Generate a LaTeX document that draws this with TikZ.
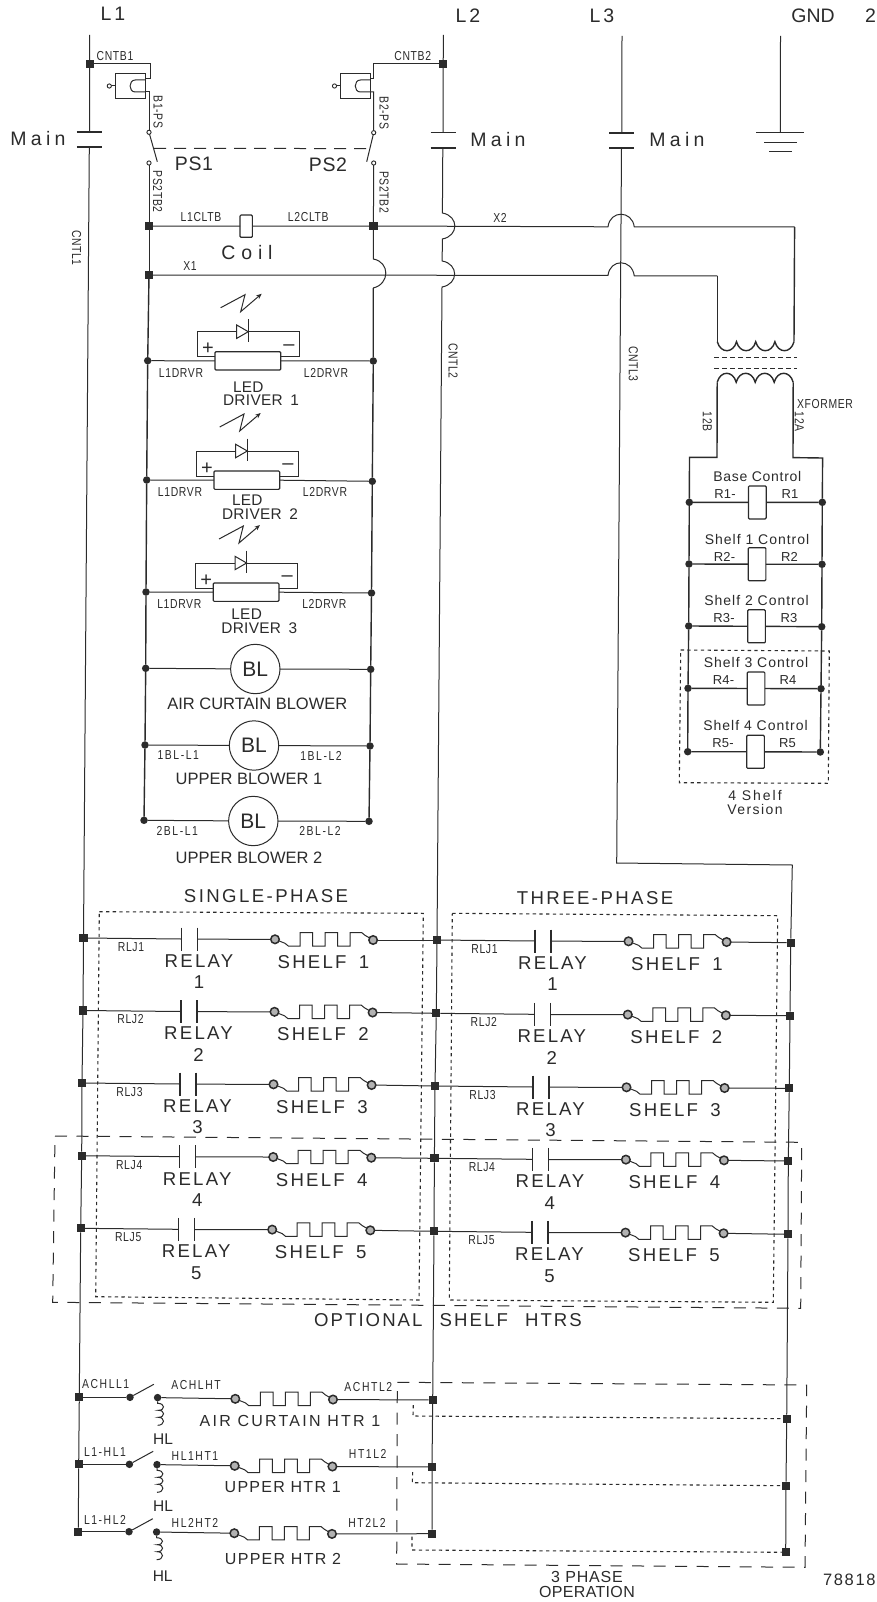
\documentclass[tikz,border=0pt]{standalone}
\usepackage{fontspec}
\setmainfont{Liberation Sans}
\newfontfamily\narrowf[FakeStretch=0.8]{Liberation Sans}
\usetikzlibrary{arrows.meta}
\definecolor{ink}{HTML}{2B2B2B}
\newcounter{lb}
\newcommand\wf[2]{\fontsize{#1}{#1}\selectfont\addfontfeatures{LetterSpace=#2}}
\newcommand\nf[1]{\narrowf\fontsize{13}{13}\selectfont\addfontfeatures{LetterSpace=#1}}
\newcommand\tlab[5]{\stepcounter{lb}\node[txt,font=\wf{#1}{#2}] (lb\arabic{lb}) at (#3,#4) {#5};}
\newcommand\tsm[3]{\stepcounter{lb}\node[txt,font=\nf{5}] (lb\arabic{lb}) at (#1,#2) {#3};}
\newcommand\tsml[3]{\stepcounter{lb}\node[txt,font=\nf{12}] (lb\arabic{lb}) at (#1,#2) {#3};}
\newcommand\tsmv[3]{\stepcounter{lb}\node[txt,rotate=-90,font=\nf{5}] (lb\arabic{lb}) at (#1,#2) {#3};}
% heater zigzag between two ring nodes
\newcommand\myheat[2]{\begin{scope}[shift={(#1)}]
 \draw[wire] (#1) -- (10,4) -- (13.3,6.7) -- (25,6.7) -- (25,-6.7) -- (37.7,-6.7) -- (37.7,6.7) -- (50,6.7) -- (50,-6.7) -- (62.7,-6.7) -- (62.7,6.7) -- (75,6.7) -- (75,-6.7) -- (86.7,-6.7) -- (90,-4) -- (#2);
\end{scope}}
% shelf row: from node #1 to node #2, number #3
\newcommand\shelfrow[3]{\begin{scope}[shift={(#1)}]
 \coordinate (#1pl) at (98,1); \coordinate (#1pr) at (114,1.2);
 \node[ring] (#1ca) at (191.5,1.3) {};
 \node[ring] (#1cb) at (289.6,2) {};
 \draw[wire] (#1) -- (#1pl);
 \draw[plate] (98,-10.5) -- (98,12.5);
 \draw[plate] (114,-10.5) -- (114,12.5);
 \draw[wire] (#1pr) -- (#1ca);
 \draw[wire] (#1cb) -- (#2);
 \tsm{47.5}{9}{RLJ#3}
 \tlab{18.6}{12}{115.5}{23}{RELAY}
 \tlab{18.6}{12}{115.5}{44.5}{#3}
 \tlab{18.6}{12}{240}{24}{SHELF\hspace{5pt} #3}
\end{scope}\myheat{#1ca}{#1cb}}
% LED driver: #1 left node, #2 right node, #3 number, #4 LED dy, #5 DRIVER dy
\newcommand\driver[5]{\begin{scope}[shift={(#1)}]
 \node[rectbox,minimum width=65.7pt,minimum height=18.3pt] (#1r) at (100.1,0.2) {};
 \draw[wire] (#1) -- (#1r.west);
 \draw[wire] (#1r.east) -- (#2);
 \coordinate (#1la) at (67.3,-4); \coordinate (#1lb) at (133,-4);
 \draw[wire] (#1la) -- (49.6,-4) -- (49.6,-29) -- (89,-29);
 \draw[wire] (89,-35.7) -- (100.6,-29) -- (89,-22.3) -- cycle;
 \draw[wire] (100.6,-41.4) -- (100.6,-19);
 \draw[wire] (100.6,-29) -- (151.3,-29) -- (151.3,-4) -- (#1lb);
 \draw[wire,-{Stealth[length=5.5pt,width=4.5pt]}] (73,-53) -- (97.3,-66) -- (93,-49) -- (114,-67);
 \tlab{20}{0}{60.3}{-11.7}{+}
 \tlab{20}{0}{141.3}{-13}{–}
 \tsm{33.3}{12}{L1DRVR}
 \tsm{178.3}{12}{L2DRVR}
 \tlab{15.4}{2}{100.6}{#4}{LED}
 \tlab{15.4}{2}{113.3}{#5}{DRIVER\hspace{3pt} #3}
\end{scope}}
% blower
\newcommand\blower[3]{\node[bl] (#1) at (#2,#3) {BL};}
% bottom heater row
\newcommand\hrow[2]{\begin{scope}[shift={(#1)}]
 \node[rnd] (#1s) at (50.7,0) {};
 \node[rnd] (#1t) at (78.3,0.3) {};
 \coordinate (#1e) at (74.5,-13);
 \node[ring] (#1ca) at (156,1.5) {};
 \node[ring] (#1cb) at (253.7,2.2) {};
 \draw[wire] (#1) -- (#1s);
 \draw[wire] (#1s) -- (#1e);
 \draw[wire] (#1t) -- (#1ca);
 \draw[wire] (#1cb) -- (#2);
 \draw[wire] (#1t) -- (78.3,6) .. controls (86,6) and (86,13) .. (79,13) .. controls (86,13) and (86,20) .. (79,20) .. controls (86,20) and (86,28) .. (78.3,28);
\end{scope}\myheat{#1ca}{#1cb}}
% pressure switch body, x = left edge
\newcommand\psbody[2]{\draw[wire] (#1,73.3) rectangle (#1+30.4,98.7);
 \draw[wire] (#1+30,80) -- (#1+20,80) .. controls (#1+13,80) and (#1+13,92) .. (#1+20,92) -- (#1+30,92);
 \draw[wire] (#1,86) -- (#1-4,86);
 \node[hollow] (#2) at (#1-6,86) {};}
% motor contact plates
\newcommand\plates[3]{\draw[plate] (#1-12.5,#2) -- (#1+12.5,#2);
 \draw[plate] (#1-12.5,#3) -- (#1+12.5,#3);}
\begin{document}
\begin{tikzpicture}[x=1pt,y=-1pt,
  wire/.style={draw=ink,line width=1pt},
  thk/.style={draw=ink,line width=1.4pt},
  plate/.style={draw=ink,line width=1.4pt},
  longdash/.style={draw=ink,line width=1pt,dash pattern=on 12pt off 9.5pt},
  shortdot/.style={draw=ink,line width=1.1pt,dash pattern=on 3.3pt off 3.4pt},
  txt/.style={inner sep=0pt,outer sep=0pt,text=ink},
  sq/.style={rectangle,fill=ink,inner sep=0pt,outer sep=0pt,minimum size=8.3pt},
  rnd/.style={circle,fill=ink,inner sep=0pt,outer sep=0pt,minimum size=7.5pt},
  hollow/.style={circle,draw=ink,line width=0.9pt,inner sep=0pt,outer sep=0pt,minimum size=4.2pt,fill=white},
  ring/.style={circle,draw=ink,line width=1.5pt,fill=gray!60,inner sep=0pt,outer sep=0pt,minimum size=8.5pt},
  rectbox/.style={rectangle,draw=ink,line width=1.2pt,fill=white,rounded corners=1pt,inner sep=0pt,outer sep=0pt},
  bl/.style={circle,draw=ink,line width=1pt,fill=white,inner sep=0pt,outer sep=0pt,minimum size=49.4pt,text=ink,font=\fontsize{21}{21}\selectfont},
]
\path[use as bounding box,fill=white] (0pt,0pt) rectangle (877pt,-1602pt);

% ---- free ends
\coordinate (L1t) at (89.6,35); \coordinate (L1a) at (89.5,132); \coordinate (L1b) at (89.3,147);
\coordinate (L2t) at (443.4,35); \coordinate (L2a) at (443,132.5); \coordinate (L2b) at (442.8,148);
\coordinate (L3t) at (622,36); \coordinate (L3a) at (621.8,133); \coordinate (L3b) at (621.5,148);
\coordinate (GNDt) at (780.5,36); \coordinate (GNDb) at (780.3,133);
\coordinate (L3k) at (616.7,863); \coordinate (L3r) at (792.3,865);

% ---- nodes on the supply lines
\node[sq] (CNTa) at (89.7,64) {};
\node[sq] (CNTb) at (443.2,64) {};
\node[sq] (PSl) at (149,226) {};
\node[sq] (PSr) at (373.4,226) {};
\node[sq] (Xn) at (149,275) {};
\foreach \n/\a/\b/\c/\d in {1/83.5/938/437/940,2/83/1010.5/436.3/1013.3,3/82/1083/435/1086,4/81.7/1155.7/434.4/1158.3,5/80.7/1228.3/434/1231.3}{
  \node[sq] (Lf\n) at (\a,\b) {};
  \node[sq] (Md\n) at (\c,\d) {};
}
\node[sq] (Rt1) at (790.7,942.7) {};
\node[sq] (Rt2) at (790,1015.7) {};
\node[sq] (Rt3) at (789.3,1088.3) {};
\node[sq] (Rt4) at (788.3,1161) {};
\node[sq] (Rt5) at (788,1234.3) {};
\node[sq] (Ha) at (79.3,1397.3) {};
\node[sq] (Hb) at (78.7,1464.3) {};
\node[sq] (Hc) at (78.3,1531.7) {};
\node[sq] (Ka) at (432.7,1400) {};
\node[sq] (Kb) at (432,1467) {};
\node[sq] (Kc) at (432,1533.7) {};
\node[sq] (Da) at (786.7,1418.7) {};
\node[sq] (Db) at (786,1485.7) {};
\node[sq] (Dc) at (785.7,1552.3) {};

% driver and blower junctions
\node[rnd] (DAl) at (147.7,360.7) {};
\node[rnd] (DAr) at (373.3,361) {};
\node[rnd] (DBl) at (146.7,480) {};
\node[rnd] (DBr) at (372.3,481.3) {};
\node[rnd] (DCl) at (146,592) {};
\node[rnd] (DCr) at (371.5,593) {};
\node[rnd] (Al) at (145.7,668.3) {};
\node[rnd] (Ar) at (370.7,669.3) {};
\node[rnd] (Ul) at (145,745) {};
\node[rnd] (Ur) at (370,746) {};
\node[rnd] (Vl) at (144,820.3) {};
\node[rnd] (Vr) at (369,821.3) {};

% ---- supply verticals
\draw[wire] (L1t) -- (CNTa) -- (L1a);
\draw[wire] (L1b) -- (Lf1) -- (Lf2) -- (Lf3) -- (Lf4) -- (Lf5) -- (Ha) -- (Hb) -- (Hc);
\draw[wire] (L2t) -- (CNTb) -- (L2a);
\draw[wire] (L2b) -- (442.4,213) .. controls (459,216) and (459,236) .. (442.3,239) -- (442.2,261) .. controls (458.8,264) and (458.8,284) .. (442,287) -- (Md1) -- (Md2) -- (Md3) -- (Md4) -- (Md5) -- (Ka) -- (Kb) -- (Kc);
\draw[wire] (L3t) -- (L3a);
\draw[wire] (L3b) -- (L3k) -- (L3r) -- (Rt1) -- (Rt2) -- (Rt3) -- (Rt4) -- (Rt5) -- (Da) -- (Db) -- (Dc);
\draw[wire] (GNDt) -- (GNDb);
\plates{89.4}{132}{147}
\plates{443}{132.5}{148}
\plates{621.7}{133}{148}
\draw[wire] (756.3,133) -- (804.3,133);
\draw[wire] (764,142.5) -- (796.5,142.5);
\draw[wire] (769,152) -- (792,152);

% ---- pressure switches
\psbody{115.3}{PSh}
\psbody{340.5}{PSi}
\node[hollow] (SWa) at (149,132.3) {};
\node[hollow] (SWb) at (149,163) {};
\node[hollow] (SWc) at (373.7,132.7) {};
\node[hollow] (SWd) at (373.7,163) {};
\coordinate (BLa) at (157.3,161.7);
\coordinate (BLb) at (366.7,161.7);
\coordinate (LKa) at (154,148.3);
\coordinate (LKb) at (369.5,148.6);
\draw[wire] (CNTa) -- (150,64) -- (150,79) -- (145.7,79);
\draw[wire] (145.7,92) -- (149,92) -- (SWa);
\draw[wire] (SWa) -- (BLa);
\draw[wire] (SWb) -- (PSl);
\draw[wire] (CNTb) -- (373.5,64) -- (373.5,79) -- (370.9,79);
\draw[wire] (370.9,92) -- (373.5,92) -- (SWc);
\draw[wire] (SWc) -- (BLb);
\draw[wire] (SWd) -- (PSr);
\draw[draw=ink,line width=1pt,dash pattern=on 12pt off 8pt] (LKa) -- (LKb);

% ---- coil and X1 / X2
\node[rectbox,minimum width=12.3pt,minimum height=22.3pt] (Coil) at (246.2,226.2) {};
\coordinate (X2k) at (794.6,227);
\coordinate (X1k) at (717.3,276);
\coordinate (TPa) at (717.3,341.7);
\coordinate (TPb) at (794,341.7);
\coordinate (TSa) at (717.2,382.3);
\coordinate (TSb) at (793.2,382.3);
\draw[wire] (PSl) -- (Coil);
\draw[wire] (Coil) -- (PSr);
\draw[wire] (PSr) -- (608,226.8) .. controls (610,210) and (632,210) .. (634.3,227) -- (X2k);
\draw[thk] (X2k) -- (TPb);
\draw[wire] (Xn) -- (608,275.4) .. controls (610,258.5) and (632,258.5) .. (634.3,276) -- (X1k);
\draw[thk] (X1k) -- (TPa);
\draw[thk] (TPa) .. controls (720.5,353.7) and (733.3,353.7) .. (736.5,341.7) .. controls (739.7,353.7) and (752.5,353.7) .. (755.7,341.7) .. controls (758.9,353.7) and (771.7,353.7) .. (774.9,341.7) .. controls (778.1,353.7) and (790.8,353.7) .. (TPb);
\draw[thk] (TSa) .. controls (720.4,370.3) and (733,370.3) .. (736.2,382.3) .. controls (739.4,370.3) and (752,370.3) .. (755.2,382.3) .. controls (758.4,370.3) and (771,370.3) .. (774.2,382.3) .. controls (777.4,370.3) and (790,370.3) .. (TSb);
\draw[draw=ink,line width=1.1pt,dash pattern=on 5pt off 3pt] (714,357.7) -- (796.7,357.7);
\draw[draw=ink,line width=1.1pt,dash pattern=on 5pt off 3pt] (714,368.3) -- (796.7,368.3);

% ---- control relays
\node[rnd] (Ca) at (689.3,502.3) {}; \node[rnd] (Cb) at (822.3,502.3) {};
\node[rnd] (Da1) at (689,564) {}; \node[rnd] (Db1) at (822,564.3) {};
\node[rnd] (Ea) at (688.7,626) {}; \node[rnd] (Eb) at (821.7,626.7) {};
\node[rnd] (Fa) at (688,688.3) {}; \node[rnd] (Fb) at (821,688.7) {};
\node[rnd] (Ga) at (687.7,751.7) {}; \node[rnd] (Gb) at (820.3,752) {};
\coordinate (SLk) at (717,457.3); \coordinate (SLe) at (689.5,457.3);
\coordinate (SRk) at (793,457.6); \coordinate (SRe) at (822.6,458);
\draw[thk] (TSa) -- (SLk) -- (SLe) -- (Ca) -- (Da1) -- (Ea) -- (Fa) -- (Ga);
\draw[thk] (TSb) -- (SRk) -- (SRe) -- (Cb) -- (Db1) -- (Eb) -- (Fb) -- (Gb);
\newcommand\cblk[8]{\node[rectbox,minimum width=17.7pt,minimum height=33pt] (#1r) at (#4,#5) {};
 \draw[thk] (#2) -- (#1r);
 \draw[thk] (#1r) -- (#3);
 \tlab{14}{#8}{#4}{#5-#6}{#7}}
\cblk{CA}{Ca}{Cb}{757.3}{502.4}{25.7}{Base Control}{5}
\cblk{CB}{Da1}{Db1}{757}{564.2}{25.2}{Shelf 1 Control}{7}
\cblk{CC}{Ea}{Eb}{756.5}{626.3}{25.6}{Shelf 2 Control}{7}
\cblk{CD}{Fa}{Fb}{756}{688.5}{25.8}{Shelf 3 Control}{7}
\cblk{CE}{Ga}{Gb}{755.5}{751.8}{26.5}{Shelf 4 Control}{7}
\tlab{13}{2}{725}{494.3}{R1-}  \tlab{13}{2}{790}{494.3}{R1}
\tlab{13}{2}{724.5}{556.7}{R2-} \tlab{13}{2}{789.5}{556.7}{R2}
\tlab{13}{2}{724}{618.3}{R3-}  \tlab{13}{2}{789}{618.3}{R3}
\tlab{13}{2}{723.5}{680.3}{R4-} \tlab{13}{2}{788}{680.3}{R4}
\tlab{13}{2}{723}{743.3}{R5-}  \tlab{13}{2}{787.5}{743.3}{R5}
\draw[shortdot] (680.7,650) -- (829.3,651) -- (828.3,783.3) -- (679.3,782.7) -- cycle;
\tlab{14}{14}{755}{795}{4 Shelf}
\tlab{14}{10}{755}{809}{Version}

% ---- left bus for drivers and blowers
\draw[wire] (PSl) -- (Xn);
\draw[thk] (Xn) -- (DAl) -- (DBl) -- (DCl) -- (Al) -- (Ul) -- (Vl);
\draw[wire] (PSr) -- (373.3,259) .. controls (390,262) and (390,284) .. (373.2,288);
\draw[thk] (373.2,288) -- (DAr) -- (DBr) -- (DCr) -- (Ar) -- (Ur) -- (Vr);
\driver{DAl}{DAr}{1}{27}{40}
\driver{DBl}{DBr}{2}{20}{34}
\driver{DCl}{DCr}{3}{22}{36}
\blower{BLa1}{255.3}{669}
\blower{BLb1}{254}{745.5}
\blower{BLc1}{253.3}{821}
\draw[wire] (Al) -- (BLa1); \draw[wire] (BLa1) -- (Ar);
\draw[wire] (Ul) -- (BLb1); \draw[wire] (BLb1) -- (Ur);
\draw[wire] (Vl) -- (BLc1); \draw[wire] (BLc1) -- (Vr);

% ---- shelf rows
\shelfrow{Lf1}{Md1}{1} \shelfrow{Lf2}{Md2}{2} \shelfrow{Lf3}{Md3}{3} \shelfrow{Lf4}{Md4}{4} \shelfrow{Lf5}{Md5}{5}
\shelfrow{Md1}{Rt1}{1} \shelfrow{Md2}{Rt2}{2} \shelfrow{Md3}{Rt3}{3} \shelfrow{Md4}{Rt4}{4} \shelfrow{Md5}{Rt5}{5}
\draw[shortdot] (99.3,911.7) -- (423.3,913.3) -- (419,1300) -- (95.7,1296.7) -- cycle;
\draw[shortdot] (452.3,913.3) -- (777.7,915.7) -- (773.3,1302.3) -- (449.3,1300) -- cycle;
\draw[longdash] (55,1136) -- (801.7,1142.3) -- (800.7,1308.3) -- (52.7,1302.3) -- cycle;

% ---- heater rows
\hrow{Ha}{Ka}
\hrow{Hb}{Kb}
\hrow{Hc}{Kc}
\draw[longdash] (397.3,1382.3) -- (806.7,1385) -- (805,1567.3) -- (396.7,1564) -- cycle;
\coordinate (Sa) at (413.3,1405); \coordinate (Sb) at (412.7,1472); \coordinate (Sc) at (412,1536.7);
\draw[shortdot] (Sa) -- (413,1416) -- (Da);
\draw[shortdot] (Sb) -- (412.3,1482.7) -- (Db);
\draw[shortdot] (Sc) -- (412,1550) -- (Dc);

% ---- texts
\tlab{19.5}{15}{113}{14}{L1}
\tlab{19.5}{15}{468}{16}{L2}
\tlab{19.5}{15}{602}{16}{L3}
\tlab{19.5}{0}{813}{16}{GND}
\tlab{19.5}{0}{870.5}{16}{2}
\tlab{19.5}{22}{38}{139}{Main}
\tlab{19.5}{22}{498}{140}{Main}
\tlab{19.5}{22}{677}{140}{Main}
\tlab{19.5}{3}{194}{164}{PS1}
\tlab{19.5}{3}{328}{164.7}{PS2}
\tlab{19.5}{30}{247}{252.7}{Coil}
\tsm{115}{55.7}{CNTB1}
\tsm{412.7}{56}{CNTB2}
\tsm{201}{217.3}{L1CLTB}
\tsm{308.3}{217.3}{L2CLTB}
\tsm{190}{266}{X1}
\tsm{500}{218.3}{X2}
\tsm{825}{404}{XFORMER}
\tsmv{76.7}{248}{CNTL1}
\tsmv{453}{361}{CNTL2}
\tsmv{633.3}{364}{CNTL3}
\tsmv{158}{112}{B1-PS}
\tsmv{384}{113}{B2-PS}
\tsmv{157.7}{191.7}{PS2TB2}
\tsmv{384}{192}{PS2TB2}
\tsmv{707.3}{421.7}{12B}
\tsmv{799.3}{421.7}{12A}
\tlab{16.5}{0}{257.3}{704.3}{AIR CURTAIN BLOWER}
\tsml{178.3}{755}{1BL-L1}
\tsml{321}{755.7}{1BL-L2}
\tlab{16.5}{0}{249}{779.3}{UPPER BLOWER 1}
\tsml{177.3}{830.7}{2BL-L1}
\tsml{320}{831.3}{2BL-L2}
\tlab{16.5}{0}{249}{858.3}{UPPER BLOWER 2}
\tlab{18.6}{13}{266}{896}{SINGLE-PHASE}
\tlab{18.6}{13}{595}{897.7}{THREE-PHASE}
\tlab{18.6}{11}{448}{1320}{OPTIONAL\hspace{10pt} SHELF\hspace{10pt} HTRS}
\tsml{105.7}{1384.3}{ACHLL1}
\tsml{196}{1385}{ACHLHT}
\tsml{368.3}{1386.7}{ACHTL2}
\tlab{16}{14}{290}{1421}{AIR CURTAIN HTR 1}
\tlab{15.5}{0}{163}{1439}{HL}
\tsml{105}{1452.3}{L1-HL1}
\tsml{195}{1455.7}{HL1HT1}
\tsml{367.7}{1454}{HT1L2}
\tlab{16}{8}{282.7}{1486.7}{UPPER HTR 1}
\tlab{15.5}{0}{163}{1506}{HL}
\tsml{105}{1519.7}{L1-HL2}
\tsml{195}{1523}{HL2HT2}
\tsml{367}{1523}{HT2L2}
\tlab{16}{8}{283}{1559}{UPPER HTR 2}
\tlab{15.5}{0}{162.7}{1575.7}{HL}
\tlab{16}{5}{587}{1576.7}{3 PHASE}
\tlab{16}{2}{587}{1591.7}{OPERATION}
\tlab{16.5}{10}{849.3}{1579.3}{78818}
\end{tikzpicture}
\end{document}
